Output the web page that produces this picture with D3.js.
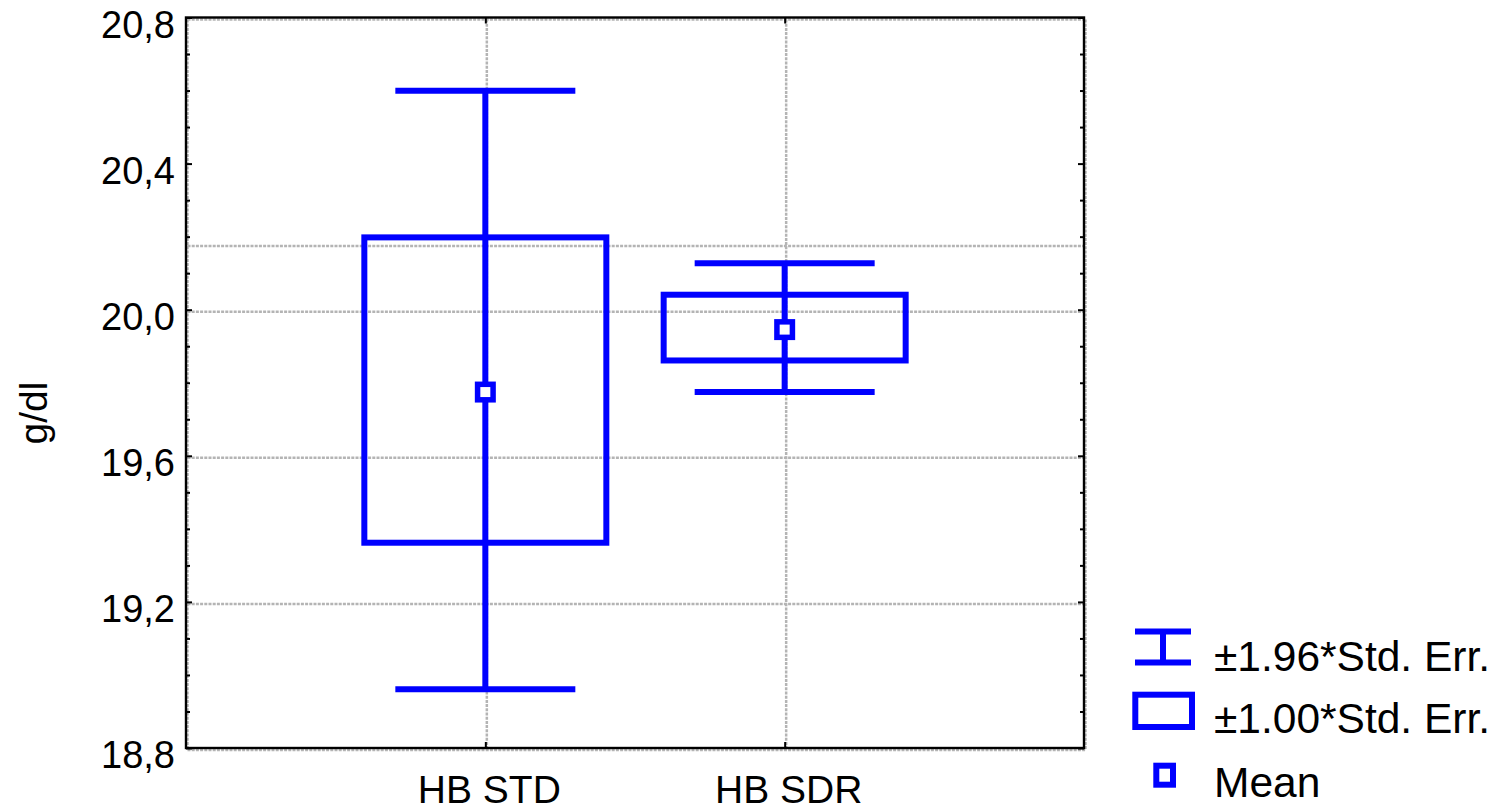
<!DOCTYPE html>
<html>
<head>
<meta charset="utf-8">
<script src="https://cdn.jsdelivr.net/npm/d3@7"></script>
<style>
  html, body { margin: 0; padding: 0; background: #fff; }
  svg { display: block; }
  text { font-family: "Liberation Sans", Arial, sans-serif; fill: #000; }
</style>
</head>
<body>
<svg id="chart" width="1504" height="810"></svg>
<script>
// ---- data ----
const categories = ["HB STD", "HB SDR"];
const means = [19.780, 19.951];
const stdErrs = [0.418, 0.090];
const whiskerMult = 1.96;
const boxMult = 1.00;
const yTicks = [18.8, 19.2, 19.6, 20.0, 20.4, 20.8];
const yTickLabels = ["18,8", "19,2", "19,6", "20,0", "20,4", "20,8"];
const yGridValues = [18.8, 19.2, 19.6, 20.0, 20.18, 20.8];
const yAxisTitle = "g/dl";
const legendLabels = ["\u00B11.96*Std. Err.", "\u00B11.00*Std. Err.", "Mean"];

(function () {
// ---- layout ----
const pL = 186, pR = 1084, pT = 17.5, pB = 748;
const blue = "#0000ff";
const svg = d3.select("#chart");

const x = d3.scaleLinear().domain([0, categories.length + 1]).range([pL, pR]);
const y = d3.scaleLinear().domain([18.8, 20.8]).range([pB, pT]);

// gridlines
const grid = svg.append("g").attr("transform", "translate(1.5,2)")
  .attr("stroke", "#b4b4b4").attr("stroke-width", 2.5).attr("stroke-dasharray", "3,1.2");
grid.selectAll("line.h").data(yGridValues).join("line").attr("class", "h")
  .attr("x1", pL).attr("x2", pR).attr("y1", d => y(d)).attr("y2", d => y(d));
const xGrid = d3.range(0, categories.length + 2);
grid.selectAll("line.v").data(xGrid).join("line").attr("class", "v")
  .attr("y1", pT).attr("y2", pB).attr("x1", d => x(d)).attr("x2", d => x(d));

// frame
svg.append("rect").attr("x", pL).attr("y", pT).attr("width", pR - pL).attr("height", pB - pT)
  .attr("fill", "none").attr("stroke", "#000").attr("stroke-width", 2.4);

// y axes ticks (inward)
const minorTicks = d3.range(18.8, 20.81, 0.1).map(v => +v.toFixed(1)).filter(v => !yTicks.includes(v));
function styleAxis(g) { g.select(".domain").remove(); g.selectAll("line").attr("stroke", "#000").attr("stroke-width", 2); g.selectAll("text").remove(); }
svg.append("g").attr("transform", `translate(${pL},0)`)
  .call(d3.axisLeft(y).tickValues(yTicks).tickSize(-6).tickFormat("")).call(styleAxis);
svg.append("g").attr("transform", `translate(${pL},0)`)
  .call(d3.axisLeft(y).tickValues(minorTicks).tickSize(-4).tickFormat("")).call(styleAxis);
svg.append("g").attr("transform", `translate(${pR},0)`)
  .call(d3.axisRight(y).tickValues(yTicks).tickSize(-6).tickFormat("")).call(styleAxis);
svg.append("g").attr("transform", `translate(${pR},0)`)
  .call(d3.axisRight(y).tickValues(minorTicks).tickSize(-4).tickFormat("")).call(styleAxis);
// x ticks (inward, top & bottom)
const catPos = categories.map((c, i) => i + 1);
svg.append("g").attr("transform", `translate(0,${pB})`)
  .call(d3.axisBottom(x).tickValues(catPos).tickSize(-6).tickFormat("")).call(styleAxis);
svg.append("g").attr("transform", `translate(0,${pT})`)
  .call(d3.axisTop(x).tickValues(catPos).tickSize(-6).tickFormat("")).call(styleAxis);

// y tick labels
svg.selectAll("text.ytl").data(yTicks).join("text").attr("class", "ytl")
  .attr("x", 175).attr("y", d => y(d) + 20).attr("text-anchor", "end")
  .attr("font-size", 38).text((d, i) => yTickLabels[i]);

// category labels
svg.selectAll("text.xtl").data(categories).join("text").attr("class", "xtl")
  .attr("x", (d, i) => x(i + 1) + 4).attr("y", 803).attr("text-anchor", "middle")
  .attr("font-size", 39).text(d => d);

// y title
svg.append("text").attr("transform", "translate(47,413) rotate(-90)")
  .attr("text-anchor", "middle").attr("font-size", 39).text(yAxisTitle);

// ---- marks ----
const capHalf = 90, boxHalf = 121;
const marks = svg.append("g").attr("stroke", blue).attr("stroke-width", 6).attr("fill", "none");
categories.forEach((c, i) => {
  const cx = x(i + 1), m = means[i], se = stdErrs[i];
  const wHi = m + whiskerMult * se, wLo = m - whiskerMult * se;
  const bHi = m + boxMult * se, bLo = m - boxMult * se;
  marks.append("line").attr("x1", cx).attr("x2", cx).attr("y1", y(wHi)).attr("y2", y(wLo));
  marks.append("line").attr("x1", cx - capHalf).attr("x2", cx + capHalf).attr("y1", y(wHi)).attr("y2", y(wHi));
  marks.append("line").attr("x1", cx - capHalf).attr("x2", cx + capHalf).attr("y1", y(wLo)).attr("y2", y(wLo));
  marks.append("rect").attr("x", cx - boxHalf).attr("width", 2 * boxHalf)
    .attr("y", y(bHi)).attr("height", y(bLo) - y(bHi));
  marks.append("rect").attr("x", cx - 7.75).attr("y", y(m) + 2 - 7.75).attr("width", 15.5).attr("height", 15.5)
    .attr("fill", "#fff").attr("stroke-width", 5.5);
});

// ---- legend ----
const lg = svg.append("g");
const lgMarks = lg.append("g").attr("stroke", blue).attr("stroke-width", 6).attr("fill", "none");
lgMarks.append("line").attr("x1", 1135).attr("x2", 1191).attr("y1", 631.5).attr("y2", 631.5);
lgMarks.append("line").attr("x1", 1135).attr("x2", 1191).attr("y1", 662.5).attr("y2", 662.5);
lgMarks.append("line").attr("x1", 1163).attr("x2", 1163).attr("y1", 631.5).attr("y2", 662.5);
lgMarks.append("rect").attr("x", 1135.3).attr("y", 694.7).attr("width", 56.7).attr("height", 32.3);
lgMarks.append("rect").attr("x", 1156.3).attr("y", 765.7).attr("width", 16.7).attr("height", 19)
  .attr("fill", "#fff").attr("stroke-width", 6);
const lgY = [671, 733, 797];
lg.selectAll("text").data(legendLabels).join("text")
  .attr("x", 1214).attr("y", (d, i) => lgY[i]).attr("font-size", 42.5).text(d => d);
})();
</script>
</body>
</html>
